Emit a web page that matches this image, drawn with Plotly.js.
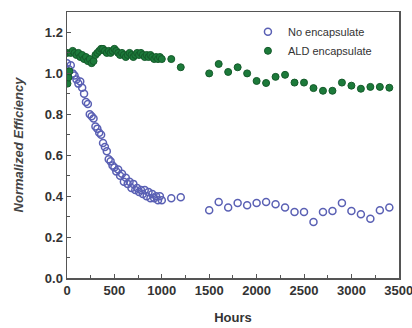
<!DOCTYPE html>
<html>
<head>
<meta charset="utf-8">
<script src="https://cdn.plot.ly/plotly-3.0.1.min.js"></script>
<style>html,body{margin:0;padding:0;background:#fff;}#chart{width:412px;height:328px;}</style>
</head>
<body>
<div id="chart"></div>
<script>
// No encapsulate
const noEncHours = [0,20,40,60,80,100,120,140,160,180,200,220,240,260,280,300,320,340,360,380,400,420,440,460,480,500,520,540,560,580,600,620,640,660,680,700,720,740,760,780,800,820,840,860,880,900,920,940,960,980,1000,1100,1200,
  1500,1600,1700,1800,1900,2000,2100,2200,2300,2400,2500,2600,2700,2800,2900,3000,3100,3200,3300,3400];
const noEncValues = [1.05,1.02,1.04,1.00,0.99,0.97,0.95,0.96,0.93,0.90,0.86,0.85,0.80,0.79,0.78,0.74,0.73,0.71,0.70,0.66,0.64,0.62,0.58,0.57,0.55,0.54,0.52,0.53,0.50,0.51,0.47,0.49,0.46,0.47,0.44,0.46,0.43,0.44,0.42,0.43,0.41,0.43,0.40,0.42,0.39,0.41,0.39,0.40,0.38,0.40,0.38,0.39,0.395,
  0.331,0.371,0.344,0.367,0.355,0.367,0.371,0.360,0.344,0.323,0.323,0.274,0.323,0.328,0.367,0.328,0.311,0.290,0.331,0.344];
// ALD encapsulate
const aldHours = [0,5,15,25,40,60,80,100,120,140,160,180,200,220,240,260,280,300,320,340,360,380,400,420,440,460,480,500,520,540,560,580,600,620,640,660,680,700,720,740,760,780,800,820,840,860,880,900,920,940,960,980,1000,1100,1200,
  1500,1600,1700,1800,1900,2000,2100,2200,2300,2400,2500,2600,2700,2800,2900,3000,3100,3200,3300,3400];
const aldValues = [1.10,0.95,0.98,1.01,1.10,1.11,1.10,1.09,1.10,1.08,1.09,1.07,1.08,1.06,1.07,1.05,1.06,1.09,1.10,1.11,1.12,1.12,1.11,1.10,1.11,1.10,1.11,1.12,1.11,1.10,1.09,1.10,1.09,1.08,1.09,1.10,1.09,1.08,1.09,1.10,1.09,1.10,1.09,1.08,1.09,1.08,1.09,1.08,1.07,1.08,1.07,1.08,1.07,1.07,1.03,
  1.00,1.046,1.007,1.03,1.0,0.963,0.953,0.983,0.993,0.955,0.955,0.928,0.915,0.915,0.955,0.94,0.925,0.934,0.934,0.93];
const xTicks = [0,500,1000,1500,2000,2500,3000,3500];
const yTicks = [0.0,0.2,0.4,0.6,0.8,1.0,1.2];
const yTickLabels = ['0.0','0.2','0.4','0.6','0.8','1.0','1.2'];

const traces = [
  {x: noEncHours, y: noEncValues, type:'scatter', mode:'markers', name:'No encapsulate',
   marker:{symbol:'circle-open', size:7, color:'#5a60b4', line:{width:1.5, color:'#5a60b4'}}},
  {x: aldHours, y: aldValues, type:'scatter', mode:'markers', name:'ALD encapsulate',
   marker:{symbol:'circle', size:7, color:'#1c7a3a', line:{width:1, color:'#145a2a'}}}
];
const axisCommon = {showline:true, mirror:true, linecolor:'#555', linewidth:1.5, showgrid:false, zeroline:false,
  ticks:'inside', ticklen:4, tickcolor:'#555', tickwidth:1, ticklabeloverflow:'allow',
  tickfont:{family:'Liberation Sans, Arial, sans-serif', size:13, color:'#333', weight:'bold'}};
const layout = {
  width:412, height:328, margin:{l:67, r:13, t:12, b:50},
  paper_bgcolor:'#fff', plot_bgcolor:'#fff', showlegend:true,
  xaxis: Object.assign({}, axisCommon, {range:[0,3502], tickmode:'array', tickvals:xTicks, ticktext:xTicks.map(String),
    minor:{ticks:'inside', ticklen:3, dtick:250, tick0:0, tickcolor:'#555'},
    title:{text:'Hours', font:{family:'Liberation Sans, Arial, sans-serif', size:13, color:'#333', weight:'bold'}, standoff:16}}),
  yaxis: Object.assign({}, axisCommon, {range:[0,1.3], tickmode:'array', tickvals:yTicks, ticktext:yTickLabels,
    minor:{ticks:'inside', ticklen:3, dtick:0.1, tick0:0, tickcolor:'#555'},
    title:{text:'<i>Normalized Efficiency</i>', font:{family:'Liberation Sans, Arial, sans-serif', size:13, color:'#444', weight:'bold'}, standoff:18}}),
  legend:{x:0.545, y:0.98, xanchor:'left', yanchor:'top', bgcolor:'rgba(0,0,0,0)',
    font:{family:'Liberation Sans, Arial, sans-serif', size:11, color:'#333'}, tracegroupgap:0}
};
Plotly.newPlot('chart', traces, layout, {staticPlot:true, displayModeBar:false});
</script>
</body>
</html>
